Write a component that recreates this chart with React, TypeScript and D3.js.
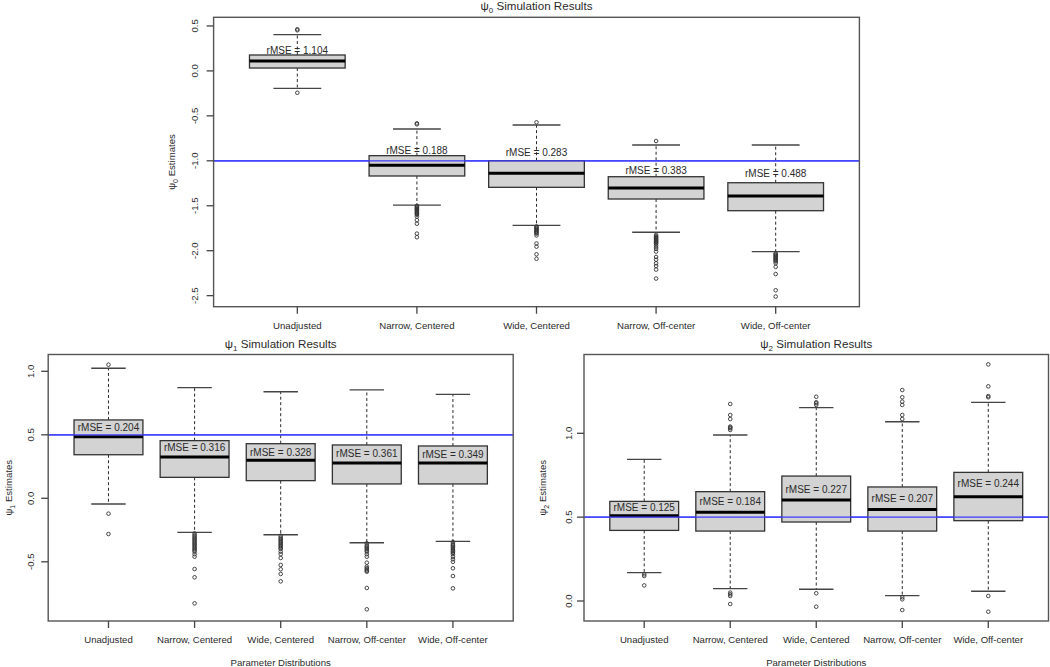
import React from "react";
import * as d3 from "d3";

// ---------- data ----------
const categories = ["Unadjusted", "Narrow, Centered", "Wide, Centered", "Narrow, Off-center", "Wide, Off-center"];

// psi0 panel
const psi0Q1 = [0.032, -1.169, -1.295, -1.425, -1.555];
const psi0Median = [0.11, -1.05, -1.139, -1.303, -1.392];
const psi0Q3 = [0.177, -0.943, -0.999, -1.177, -1.244];
const psi0WhiskerLow = [-0.194, -1.492, -1.718, -1.795, -2.011];
const psi0WhiskerHigh = [0.403, -0.646, -0.602, -0.824, -0.824];
const psi0Outliers = [
  [0.463, 0.452, -0.243],
  [-0.583, -0.594, -1.5, -1.51, -1.52, -1.53, -1.54, -1.55, -1.56, -1.57, -1.58, -1.59, -1.6, -1.62, -1.66, -1.7, -1.81, -1.85],
  [-0.572, -1.73, -1.74, -1.75, -1.76, -1.77, -1.78, -1.79, -1.8, -1.81, -1.83, -1.92, -1.955, -2.04, -2.09],
  [-0.78, -1.825, -1.84, -1.85, -1.86, -1.87, -1.88, -1.89, -1.9, -1.91, -1.92, -1.94, -1.96, -1.98, -2.01, -2.07, -2.1, -2.14, -2.17, -2.21, -2.31],
  [-2.03, -2.04, -2.05, -2.06, -2.07, -2.08, -2.09, -2.1, -2.11, -2.12, -2.14, -2.18, -2.26, -2.44, -2.51],
];
const psi0Rmse = ["1.104", "0.188", "0.283", "0.383", "0.488"];
const psi0LabelY = [0.232, -0.88, -0.905, -1.11, -1.139];
const psi0Ticks = [0.5, 0, -0.5, -1, -1.5, -2, -2.5];
const psi0Truth = -1;

// psi1 panel
const psi1Q1 = [0.343, 0.165, 0.139, 0.113, 0.113];
const psi1Median = [0.485, 0.325, 0.299, 0.278, 0.278];
const psi1Q3 = [0.617, 0.454, 0.43, 0.42, 0.412];
const psi1WhiskerLow = [-0.045, -0.268, -0.287, -0.35, -0.339];
const psi1WhiskerHigh = [1.024, 0.871, 0.839, 0.853, 0.819];
const psi1Outliers = [
  [1.052, -0.121, -0.281],
  [-0.276, -0.29, -0.3, -0.31, -0.32, -0.33, -0.34, -0.35, -0.36, -0.37, -0.38, -0.39, -0.4, -0.41, -0.42, -0.44, -0.46, -0.557, -0.622, -0.827],
  [-0.295, -0.31, -0.32, -0.33, -0.34, -0.35, -0.36, -0.37, -0.38, -0.39, -0.4, -0.42, -0.44, -0.47, -0.525, -0.559, -0.596, -0.654],
  [-0.354, -0.37, -0.38, -0.39, -0.4, -0.41, -0.42, -0.44, -0.46, -0.507, -0.538, -0.55, -0.56, -0.57, -0.578, -0.706, -0.874],
  [-0.345, -0.36, -0.37, -0.38, -0.39, -0.4, -0.41, -0.42, -0.43, -0.44, -0.46, -0.48, -0.5, -0.551, -0.612, -0.709],
];
const psi1Rmse = ["0.204", "0.316", "0.328", "0.361", "0.349"];
const psi1LabelY = [0.559, 0.402, 0.359, 0.354, 0.343];
const psi1Ticks = [1.0, 0.5, 0.0, -0.5];
const psi1Truth = 0.5;

// psi2 panel
const psi2Q1 = [0.421, 0.417, 0.471, 0.417, 0.479];
const psi2Median = [0.509, 0.529, 0.602, 0.545, 0.622];
const psi2Q3 = [0.594, 0.652, 0.745, 0.68, 0.767];
const psi2WhiskerLow = [0.169, 0.074, 0.07, 0.032, 0.058];
const psi2WhiskerHigh = [0.845, 0.99, 1.153, 1.069, 1.185];
const psi2Outliers = [
  [0.159, 0.149, 0.093],
  [1.02, 1.03, 1.035, 1.04, 1.085, 1.109, 1.175, 0.05, 0.04, 0.03, -0.018],
  [1.169, 1.179, 1.185, 1.218, 0.046, -0.034],
  [1.085, 1.109, 1.169, 1.189, 1.215, 1.258, 0.022, 0.01, -0.054],
  [1.215, 1.222, 1.28, 1.411, 0.03, -0.064],
];
const psi2Rmse = ["0.125", "0.184", "0.227", "0.207", "0.244"];
const psi2LabelY = [0.556, 0.594, 0.666, 0.612, 0.702];
const psi2Ticks = [1.0, 0.5, 0.0];
const psi2Truth = 0.5;

const xTitle = "Parameter Distributions";

// ---------- drawing ----------
const FONT = "'Liberation Sans', Arial, Helvetica, sans-serif";
const INK = "#2a2a2a";

type PanelProps = {
  sub: string;
  left: number; right: number; top: number; bottom: number;
  yDomain: [number, number];
  q1: number[]; med: number[]; q3: number[]; wlo: number[]; whi: number[];
  outliers: number[][]; rmse: string[]; labelY: number[]; ticks: number[]; truth: number;
  showXTitle: boolean;
  yTickX: number; yTitleX: number; titleY: number; xLabY: number; xTitleY: number;
};

function fmt(v: number) {
  return d3.format(".1f")(v).replace("−", "-");
}

function Panel(p: PanelProps) {
  const x = d3.scaleLinear().domain([0.3, 5.7]).range([p.left, p.right]);
  const y = d3.scaleLinear().domain(p.yDomain).range([p.bottom, p.top]);
  const unit = x(1) - x(0);
  const boxW = unit * 0.8;
  const capW = boxW * 0.5;
  const cx = (p.left + p.right) / 2;
  const cy = (p.top + p.bottom) / 2;
  return (
    <g fontFamily={FONT}>
      {/* title */}
      <text x={cx} y={p.titleY} textAnchor="middle" fontSize={11.6} fill={INK}>
        ψ<tspan fontSize={8} dy={3}>{p.sub}</tspan>
        <tspan dy={-3}> Simulation Results</tspan>
      </text>
      {/* truth line */}
      <line x1={p.left} x2={p.right} y1={y(p.truth)} y2={y(p.truth)} stroke="#3b3bff" strokeWidth={1.2} />
      {categories.map((c, i) => {
        const xc = x(i + 1);
        return (
          <g key={c}>
            <line x1={xc} x2={xc} y1={y(p.q3[i])} y2={y(p.whi[i])} stroke={INK} strokeWidth={1} strokeDasharray="3,2.5" />
            <line x1={xc} x2={xc} y1={y(p.q1[i])} y2={y(p.wlo[i])} stroke={INK} strokeWidth={1} strokeDasharray="3,2.5" />
            <line x1={xc - capW / 2} x2={xc + capW / 2} y1={y(p.whi[i])} y2={y(p.whi[i])} stroke="#444" strokeWidth={1.3} />
            <line x1={xc - capW / 2} x2={xc + capW / 2} y1={y(p.wlo[i])} y2={y(p.wlo[i])} stroke="#444" strokeWidth={1.3} />
            <rect x={xc - boxW / 2} width={boxW} y={y(p.q3[i])} height={y(p.q1[i]) - y(p.q3[i])} fill="#d3d3d3" stroke="#333" strokeWidth={1.3} />
            <line x1={xc - boxW / 2} x2={xc + boxW / 2} y1={y(p.med[i])} y2={y(p.med[i])} stroke="#000" strokeWidth={3} />
            {p.outliers[i].map((o, j) => (
              <circle key={j} cx={xc} cy={y(o)} r={1.8} fill="none" stroke="#333" strokeWidth={0.9} />
            ))}
          </g>
        );
      })}
      {/* truth line redrawn faintly over boxes? no: R draws abline after boxplot */}
      <line x1={p.left} x2={p.right} y1={y(p.truth)} y2={y(p.truth)} stroke="#3b3bff" strokeWidth={1.2} />
      {categories.map((c, i) => (
        <text key={"l" + c} x={x(i + 1)} y={y(p.labelY[i]) + 3.6} textAnchor="middle" fontSize={10} fill={INK}>
          {"rMSE = " + p.rmse[i]}
        </text>
      ))}
      {/* frame */}
      <rect x={p.left} y={p.top} width={p.right - p.left} height={p.bottom - p.top} fill="none" stroke="#555" strokeWidth={1.4} />
      {/* x axis */}
      {categories.map((c, i) => (
        <g key={"x" + c}>
          <line x1={x(i + 1)} x2={x(i + 1)} y1={p.bottom} y2={p.bottom + 7} stroke="#444" strokeWidth={1.3} />
          <text x={x(i + 1)} y={p.xLabY} textAnchor="middle" fontSize={9.6} fill={INK}>{c}</text>
        </g>
      ))}
      {p.showXTitle && (
        <text x={cx} y={p.xTitleY} textAnchor="middle" fontSize={9.6} fill={INK}>{xTitle}</text>
      )}
      {/* y axis */}
      {p.ticks.map((t) => (
        <g key={"y" + t}>
          <line x1={p.left - 7} x2={p.left} y1={y(t)} y2={y(t)} stroke="#444" strokeWidth={1.3} />
          <text transform={`translate(${p.yTickX},${y(t)}) rotate(-90)`} textAnchor="middle" fontSize={9.6} fill={INK}>
            {fmt(t)}
          </text>
        </g>
      ))}
      <text transform={`translate(${p.yTitleX},${cy}) rotate(-90)`} textAnchor="middle" fontSize={9.6} fill={INK}>
        ψ<tspan fontSize={7} dy={2.5}>{p.sub}</tspan>
        <tspan dy={-2.5}> Estimates</tspan>
      </text>
    </g>
  );
}

export default function App() {
  const W = 1050;
  const H = 667;
  const top = { left: 213.6, right: 859.4, top: 17.3, bottom: 306.7 };
  const topY0 = 70.9, topK = 89.9;
  const bl = { left: 48.2, right: 513.2, top: 354.5, bottom: 621 };
  const blY0 = 498.3, blK = 127;
  const br = { left: 584, right: 1048.5, top: 354.5, bottom: 621 };
  const brY0 = 601, brK = 167.7;
  return (
    <svg width={W} height={H} style={{ position: "absolute", left: 0, top: 0, background: "#fff" }}>
      <rect width={W} height={H} fill="#fff" />
      <Panel
        sub="0" {...top}
        yDomain={[(topY0 - top.bottom) / topK, (topY0 - top.top) / topK]}
        q1={psi0Q1} med={psi0Median} q3={psi0Q3} wlo={psi0WhiskerLow} whi={psi0WhiskerHigh}
        outliers={psi0Outliers} rmse={psi0Rmse} labelY={psi0LabelY} ticks={psi0Ticks} truth={psi0Truth}
        showXTitle={false} yTickX={198.4} yTitleX={175.4} titleY={10} xLabY={329} xTitleY={0}
      />
      <Panel
        sub="1" {...bl}
        yDomain={[(blY0 - bl.bottom) / blK, (blY0 - bl.top) / blK]}
        q1={psi1Q1} med={psi1Median} q3={psi1Q3} wlo={psi1WhiskerLow} whi={psi1WhiskerHigh}
        outliers={psi1Outliers} rmse={psi1Rmse} labelY={psi1LabelY} ticks={psi1Ticks} truth={psi1Truth}
        showXTitle={true} yTickX={34.4} yTitleX={12} titleY={347.5} xLabY={642.5} xTitleY={666}
      />
      <Panel
        sub="2" {...br}
        yDomain={[(brY0 - br.bottom) / brK, (brY0 - br.top) / brK]}
        q1={psi2Q1} med={psi2Median} q3={psi2Q3} wlo={psi2WhiskerLow} whi={psi2WhiskerHigh}
        outliers={psi2Outliers} rmse={psi2Rmse} labelY={psi2LabelY} ticks={psi2Ticks} truth={psi2Truth}
        showXTitle={true} yTickX={572} yTitleX={546} titleY={347.5} xLabY={642.5} xTitleY={666}
      />
    </svg>
  );
}
